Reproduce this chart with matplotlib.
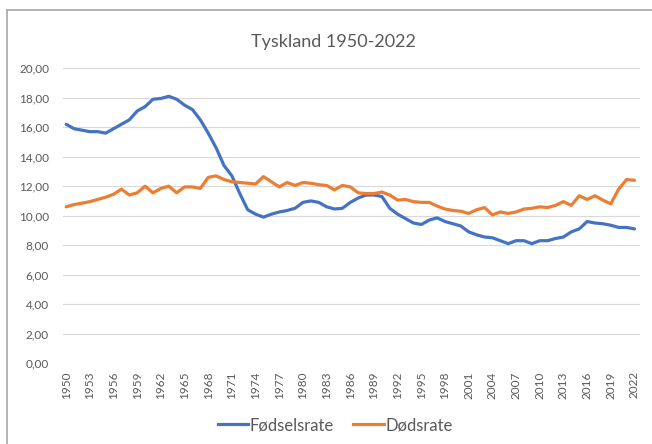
import matplotlib
matplotlib.use("Agg")
import matplotlib.pyplot as plt
from matplotlib.lines import Line2D
import numpy as np

# data (per 1000 inhabitants)
years = list(range(1950, 2023))

births = [16.2, 15.9, 15.8, 15.7, 15.7, 15.6, 15.9, 16.2, 16.5, 17.1,
          17.4, 17.9, 17.95, 18.1, 17.9, 17.5, 17.2, 16.5, 15.6, 14.6,
          13.4, 12.7, 11.5, 10.4, 10.1, 9.9, 10.1, 10.25, 10.35, 10.5,
          10.9, 11.0, 10.9, 10.6, 10.45, 10.5, 10.9, 11.2, 11.4, 11.4,
          11.3, 10.5, 10.1, 9.8, 9.5, 9.4, 9.7, 9.85, 9.6, 9.45,
          9.3, 8.9, 8.7, 8.55, 8.5, 8.3, 8.1, 8.3, 8.3, 8.1,
          8.3, 8.3, 8.45, 8.55, 8.9, 9.1, 9.6, 9.5, 9.45, 9.35,
          9.2, 9.2, 9.1]

deaths = [10.6, 10.75, 10.85, 10.95, 11.1, 11.25, 11.45, 11.8, 11.4, 11.55,
          12.0, 11.55, 11.85, 12.0, 11.55, 11.95, 11.95, 11.85, 12.6, 12.7,
          12.45, 12.3, 12.25, 12.2, 12.15, 12.65, 12.3, 11.95, 12.25, 12.05,
          12.25, 12.2, 12.1, 12.05, 11.75, 12.05, 11.95, 11.55, 11.5, 11.5,
          11.6, 11.4, 11.05, 11.1, 10.95, 10.9, 10.9, 10.65, 10.45, 10.35,
          10.3, 10.15, 10.4, 10.55, 10.05, 10.25, 10.15, 10.25, 10.45, 10.5,
          10.6, 10.55, 10.7, 10.95, 10.7, 11.35, 11.1, 11.35, 11.05, 10.8,
          11.8, 12.45, 12.4]

series_names = ["Fødselsrate", "Dødsrate"]
title = "Tyskland 1950-2022"

blue = "#4472C4"
orange = "#ED7D31"
grey_txt = "#595959"

plt.rcParams['font.family'] = ['Lato', 'DejaVu Sans']

fig = plt.figure(figsize=(6.52, 4.44), dpi=100)
ax = fig.add_axes([63/652, 1 - 363/444, (640 - 63)/652, (363 - 68.3)/444])

ax.plot(years, births, color=blue, lw=2.3, solid_capstyle='round')
ax.plot(years, deaths, color=orange, lw=2.3, solid_capstyle='round')

ax.set_xlim(1949.6, 2022.7)
ax.set_ylim(0, 20)
ax.set_yticks(np.arange(0, 21, 2))
ax.yaxis.set_major_formatter(plt.FuncFormatter(lambda v, p: ("%.2f" % v).replace(".", ",")))
ax.set_xticks(years[::3])
ax.set_xticklabels([str(y) for y in years[::3]], rotation=90)

ax.grid(axis='y', color="#D9D9D9", lw=0.8)
ax.set_axisbelow(True)
for s in ax.spines.values():
    s.set_visible(False)
ax.tick_params(length=0, colors=grey_txt, labelsize=8.5, pad=6)
ax.tick_params(axis='y', pad=10)

fig.text(333/652, 1 - 42/444, title, ha='center', va='center', fontsize=13, color=grey_txt)

handles = [Line2D([], [], color=blue, lw=2.3), Line2D([], [], color=orange, lw=2.3)]
fig.legend(handles, series_names, loc='center', bbox_to_anchor=(335/652, 1 - 425/444),
           ncol=2, frameon=False, fontsize=12, labelcolor=grey_txt,
           handlelength=1.85, handletextpad=0.05, columnspacing=1.2,
           borderpad=0, borderaxespad=0)

# frame of the chart object
fig.add_artist(Line2D([7/652, 7/652], [0, 1 - 10/444], color="#A6A6A6", lw=1.2))
fig.add_artist(Line2D([7/652, 1], [1 - 10/444, 1 - 10/444], color="#A6A6A6", lw=1.2))

fig.savefig("out.png", dpi=100)
